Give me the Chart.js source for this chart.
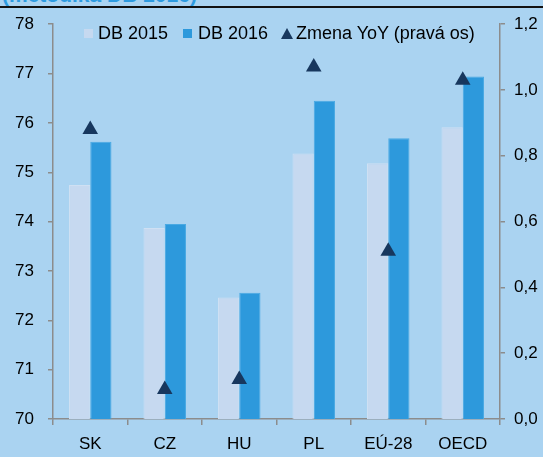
<!DOCTYPE html>
<html>
<head>
<meta charset="utf-8">
<script src="https://cdn.jsdelivr.net/npm/chart.js@4"></script>
<style>
  body { margin: 0; background: #aad3f1; overflow: hidden; }
  #wrap { position: relative; width: 543px; height: 457px; font-family: "Liberation Sans", Arial, sans-serif; }
  #title { position: absolute; left: 2px; top: -17px; color: #2e9be0; font-weight: bold; font-size: 21px; white-space: nowrap; }
  #rule { position: absolute; left: 0; top: 6px; width: 543px; height: 2px; background: #111; }
  .lg { position: absolute; top: 23px; font-size: 18px; color: #000; white-space: nowrap; }
  .sq { position: absolute; top: 29px; width: 9px; height: 9px; }
  .tri { position: absolute; top: 28px; width: 0; height: 0; border-left: 6px solid transparent; border-right: 6px solid transparent; border-bottom: 11px solid #17375e; }
  canvas { position: absolute; left: 0; top: 0; }
</style>
</head>
<body>
<div id="wrap">
  <div id="title">(metodika DB 2016)</div>
  <div id="rule"></div>
  <canvas id="chart" width="543" height="457"></canvas>
  <div class="sq" style="left:84px; background:#c6d9f0"></div>
  <div class="lg" style="left:98px">DB 2015</div>
  <div class="sq" style="left:183px; background:#2d99dc"></div>
  <div class="lg" style="left:198px">DB 2016</div>
  <div class="tri" style="left:281px"></div>
  <div class="lg" style="left:296px">Zmena YoY (pravá os)</div>
</div>
<script>
// categories and values
const categories = ['SK', 'CZ', 'HU', 'PL', 'EÚ-28', 'OECD'];
const db2015 = [74.74, 73.87, 72.46, 75.38, 75.18, 75.91];
const db2016 = [75.62, 73.95, 72.56, 76.45, 75.69, 76.94];
const zmenaYoY = [0.88, 0.09, 0.12, 1.07, 0.51, 1.03];

const axisGray = '#8c8c8c';
const fontSpec = { family: '"Liberation Sans", Arial, sans-serif', size: 17 };

var ctx = document.getElementById('chart').getContext('2d');
var chart = new Chart(ctx, {
  type: 'bar',
  data: {
    labels: categories,
    datasets: [
      {
        type: 'line',
        label: 'Zmena YoY (pravá os)',
        data: zmenaYoY,
        yAxisID: 'y1',
        showLine: false,
        pointStyle: 'triangle',
        pointRadius: 9,
        pointHoverRadius: 9,
        backgroundColor: '#17375e',
        borderColor: '#17375e',
        borderWidth: 0,
        order: 0
      },
      {
        label: 'DB 2015',
        data: db2015,
        backgroundColor: '#c6d9f0',
        borderColor: '#cfe0f3',
        borderWidth: 1,
        yAxisID: 'y',
        order: 1
      },
      {
        label: 'DB 2016',
        data: db2016,
        backgroundColor: '#2d99dc',
        borderColor: '#49a9e3',
        borderWidth: 1,
        yAxisID: 'y',
        order: 1
      }
    ]
  },
  options: {
    responsive: false,
    animation: false,
    layout: { padding: { top: 22 } },
    plugins: {
      legend: { display: false },
      tooltip: { enabled: false }
    },
    datasets: {
      bar: { categoryPercentage: 0.57, barPercentage: 1.0 }
    },
    scales: {
      x: {
        z: 1,
        grid: { display: true, drawOnChartArea: false, color: axisGray, tickLength: 6, lineWidth: 1.5, offset: true },
        border: { color: axisGray, width: 1.5 },
        ticks: { color: '#000', font: fontSpec, padding: 9, maxRotation: 0 },
        afterFit: function (scale) { scale.height = 38; }
      },
      y: {
        position: 'left',
        min: 70,
        max: 78,
        grid: { drawOnChartArea: false, color: axisGray, tickLength: 5, lineWidth: 1.5 },
        border: { color: axisGray, width: 1.5 },
        ticks: { stepSize: 1, color: '#000', font: fontSpec, padding: 14 },
        afterFit: function (scale) { scale.width = 53; }
      },
      y1: {
        position: 'right',
        min: 0,
        max: 1.2,
        grid: { drawOnChartArea: false, color: axisGray, tickLength: 5, lineWidth: 1.5 },
        border: { color: axisGray, width: 1.5 },
        ticks: {
          stepSize: 0.2,
          color: '#000',
          font: fontSpec,
          padding: 9,
          callback: function (v) { return v.toFixed(1).replace('.', ','); }
        },
        afterFit: function (scale) { scale.width = 43; }
      }
    }
  }
});
</script>
</body>
</html>
